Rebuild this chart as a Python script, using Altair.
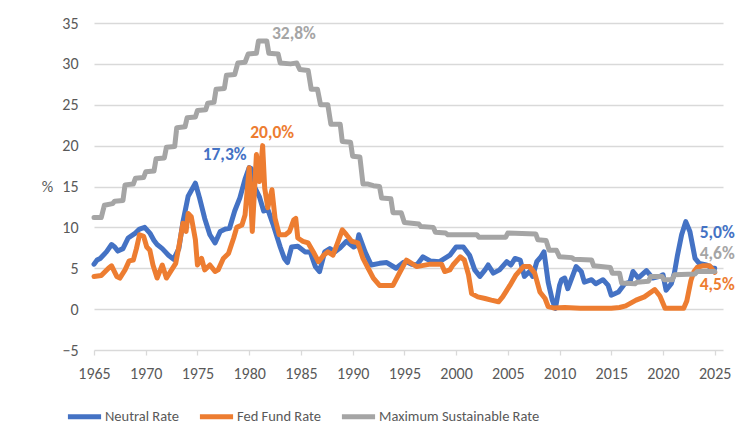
import altair as alt
import pandas as pd

# ---------------- data ----------------
series_names = ["Neutral Rate", "Fed Fund Rate", "Maximum Sustainable Rate"]
series_colors = ["#4472C4", "#ED7D31", "#A5A5A5"]

neutral_year = [1965.0, 1965.3, 1965.6, 1966.2, 1966.7, 1967.0, 1967.3, 1967.8, 1968.3, 1969.0,
                1969.4, 1969.9, 1970.4, 1970.8, 1971.1, 1971.6, 1972.2, 1972.7, 1973.2, 1973.6,
                1974.1, 1974.8, 1975.2, 1975.7, 1976.2, 1976.7, 1977.2, 1977.7, 1978.1, 1978.6,
                1979.1, 1979.6, 1980.0, 1980.2, 1980.5, 1981.0, 1981.4, 1981.8, 1982.3, 1983.0,
                1983.4, 1983.7, 1984.1, 1984.7, 1985.4, 1985.9, 1986.4, 1986.8, 1987.3, 1987.8,
                1988.3, 1988.8, 1989.4, 1990.1, 1990.4, 1990.6, 1991.2, 1991.8, 1992.6, 1993.3,
                1994.2, 1994.9, 1995.2, 1995.7, 1996.2, 1996.8, 1997.5, 1998.4, 1999.4, 2000.0,
                2000.7, 2001.3, 2001.8, 2002.3, 2002.8, 2003.1, 2003.6, 2004.2, 2004.9, 2005.3,
                2005.7, 2006.2, 2006.6, 2007.1, 2007.4, 2007.8, 2008.2, 2008.5, 2008.9, 2009.3,
                2009.6, 2010.0, 2010.2, 2010.5, 2010.8, 2011.6, 2012.1, 2012.4, 2013.1, 2013.5,
                2014.2, 2014.7, 2015.0, 2015.7, 2016.3, 2016.8, 2017.1, 2017.6, 2018.4, 2019.0,
                2019.7, 2020.0, 2020.3, 2020.8, 2021.1, 2021.4, 2021.8, 2022.2, 2022.6, 2023.1,
                2023.5, 2024.2, 2024.8, 2025.0]
neutral_val = [5.5, 6.0, 6.2, 7.0, 7.9, 7.6, 7.1, 7.4, 8.7, 9.3,
               9.8, 10.0, 9.3, 8.4, 7.9, 7.4, 6.6, 6.1, 7.4, 10.7,
               13.8, 15.4, 13.6, 11.1, 9.1, 8.1, 9.5, 9.8, 9.9, 12.0,
               13.6, 15.9, 17.3, 17.2, 15.0, 13.7, 12.0, 12.2, 10.4, 7.6,
               6.2, 5.7, 7.6, 7.7, 7.0, 7.0, 5.2, 4.6, 7.0, 7.4,
               7.0, 7.5, 8.3, 7.6, 7.8, 9.1, 7.0, 5.4, 5.6, 5.7,
               5.0, 5.7, 5.8, 5.5, 5.4, 6.4, 5.9, 5.8, 6.6, 7.6,
               7.6, 6.6, 4.8, 4.0, 4.8, 5.4, 4.4, 4.8, 5.8, 5.4,
               6.2, 6.0, 4.0, 4.6, 4.0, 5.8, 6.4, 7.0, 3.3, 1.1,
               0.1, 2.9, 3.6, 3.8, 2.5, 5.2, 4.6, 3.3, 3.6, 3.1,
               3.6, 2.9, 1.7, 2.1, 3.1, 3.3, 4.6, 3.8, 4.7, 3.8,
               4.0, 4.2, 2.3, 3.1, 4.4, 6.6, 9.1, 10.7, 9.5, 6.2,
               5.6, 5.4, 5.0, 5.0]

fed_year = [1965.0, 1965.7, 1966.4, 1966.7, 1967.2, 1967.5, 1968.0, 1968.4, 1968.8, 1969.1,
            1969.4, 1969.8, 1970.1, 1970.4, 1970.7, 1971.1, 1971.6, 1972.0, 1972.5, 1972.9,
            1973.3, 1973.6, 1973.9, 1974.1, 1974.4, 1974.8, 1975.0, 1975.4, 1975.7, 1976.2,
            1976.7, 1977.0, 1977.5, 1978.0, 1978.5, 1978.8, 1979.3, 1979.6, 1980.0, 1980.3,
            1980.7, 1981.0, 1981.3, 1981.5, 1981.8, 1982.2, 1982.5, 1982.9, 1983.5, 1983.9,
            1984.3, 1984.5, 1984.7, 1985.2, 1985.7, 1986.2, 1986.7, 1987.2, 1987.6, 1988.1,
            1988.6, 1989.0, 1989.4, 1989.9, 1990.5, 1991.0, 1991.5, 1992.0, 1992.6, 1993.4,
            1993.9, 1994.6, 1995.2, 1996.2, 1997.5, 1998.6, 1998.9, 1999.4, 1999.7, 2000.4,
            2000.8, 2001.2, 2001.5, 2002.1, 2002.8, 2003.4, 2004.1, 2004.5, 2005.2, 2005.8,
            2006.5, 2007.1, 2007.6, 2008.1, 2008.6, 2008.9, 2009.4, 2010.5, 2012.0, 2015.0,
            2015.8, 2016.4, 2017.4, 2018.2, 2019.2, 2019.7, 2020.2, 2022.0, 2022.3, 2022.7,
            2023.0, 2023.3, 2023.8, 2024.5, 2024.8, 2025.0]
fed_val = [4.0, 4.1, 5.0, 5.3, 4.0, 3.8, 4.8, 5.9, 6.0, 7.4,
           9.1, 8.9, 7.6, 7.2, 5.4, 3.8, 5.4, 3.8, 4.8, 5.6,
           8.3, 10.5, 9.5, 11.7, 11.3, 8.5, 5.4, 6.2, 4.8, 5.4,
           4.6, 4.8, 6.2, 6.8, 8.7, 10.0, 10.3, 11.5, 17.3, 9.5,
           18.9, 15.6, 20.0, 14.8, 12.4, 14.6, 11.1, 9.1, 9.1, 9.5,
           10.9, 11.1, 8.7, 8.3, 8.1, 7.0, 5.8, 6.6, 7.0, 6.6,
           8.3, 9.7, 9.1, 8.3, 8.1, 6.2, 5.0, 3.8, 2.9, 2.9,
           2.9, 4.6, 6.0, 5.2, 5.5, 5.5, 4.6, 4.8, 5.4, 6.4,
           6.0, 4.2, 1.9, 1.5, 1.3, 1.1, 0.9, 1.5, 2.9, 4.2,
           5.2, 5.2, 4.4, 2.1, 1.3, 0.3, 0.15, 0.2, 0.1, 0.1,
           0.2, 0.4, 1.1, 1.5, 2.4, 1.6, 0.1, 0.1, 1.0, 3.5,
           4.6, 5.1, 5.3, 5.3, 4.8, 4.5]

max_year = [1965.0, 1965.7, 1966.0, 1966.8, 1967.0, 1967.8, 1968.0, 1968.8, 1969.0, 1969.8,
            1970.0, 1970.8, 1971.0, 1971.8, 1972.0, 1972.8, 1973.0, 1973.8, 1974.0, 1974.8,
            1975.0, 1975.8, 1976.0, 1976.6, 1976.8, 1977.6, 1977.8, 1978.6, 1978.9, 1979.6,
            1979.9, 1980.7, 1980.9, 1981.7, 1981.9, 1982.8, 1983.0, 1984.0, 1984.6, 1984.9,
            1985.7, 1986.0, 1986.6, 1986.9, 1987.6, 1987.9, 1988.8, 1989.0, 1989.8, 1990.0,
            1990.7, 1991.0, 1991.5, 1992.0, 1992.6, 1992.8, 1993.7, 1993.9, 1994.7, 1995.0,
            1996.4, 1996.6, 1997.8, 1998.0, 1999.0, 1999.2, 2002.0, 2002.2, 2004.8, 2005.0,
            2007.7, 2007.9, 2008.7, 2009.0, 2009.7, 2010.0, 2011.2, 2011.4, 2013.1, 2013.3,
            2014.9, 2015.1, 2015.8, 2016.0, 2017.3, 2017.5, 2018.6, 2018.8, 2019.9, 2020.1,
            2020.9, 2021.1, 2023.1, 2023.3, 2025.0]
max_val = [11.2, 11.2, 12.7, 12.9, 13.2, 13.3, 15.2, 15.3, 16.0, 16.1,
           16.8, 16.9, 18.4, 18.5, 19.8, 19.9, 22.2, 22.3, 23.4, 23.5,
           24.3, 24.4, 25.2, 25.3, 26.9, 27.0, 28.6, 28.7, 30.1, 30.2,
           31.2, 31.3, 32.8, 32.8, 31.3, 31.2, 30.1, 30.0, 30.1, 29.3,
           29.2, 26.9, 26.9, 25.0, 25.0, 22.6, 22.6, 20.5, 20.4, 18.7,
           18.6, 15.3, 15.3, 15.1, 15.0, 13.6, 13.5, 11.8, 11.8, 10.6,
           10.4, 10.1, 10.0, 9.4, 9.3, 9.1, 9.1, 8.8, 8.8, 9.3,
           9.2, 8.5, 8.4, 7.2, 7.2, 6.4, 6.3, 6.1, 6.0, 5.3,
           5.1, 4.4, 4.4, 3.2, 3.1, 3.3, 3.4, 4.0, 4.0, 3.6,
           3.6, 4.2, 4.3, 4.6, 4.6]

# annotation labels (text, series, anchor year, anchor value)
ann_text = ["17,3%", "20,0%", "32,8%", "5,0%", "4,6%", "4,5%"]
ann_series = ["Neutral Rate", "Fed Fund Rate", "Maximum Sustainable Rate",
              "Neutral Rate", "Maximum Sustainable Rate", "Fed Fund Rate"]
ann_year = [1975.5, 1980.1, 1982.2, 2023.55, 2023.55, 2023.55]
ann_val = [18.8, 21.5, 33.7, 9.3, 6.7, 3.0]

y_ticks = [-5, 0, 5, 10, 15, 20, 25, 30, 35]
x_ticks = [1965, 1970, 1975, 1980, 1985, 1990, 1995, 2000, 2005, 2010, 2015, 2020, 2025]

# ---------------- build table ----------------
frames = []
for name, yrs, vals in [(series_names[0], neutral_year, neutral_val),
                        (series_names[1], fed_year, fed_val),
                        (series_names[2], max_year, max_val)]:
    frames.append(pd.DataFrame({"series": name, "year": yrs, "value": vals,
                                "idx": range(len(yrs))}))
df = pd.concat(frames, ignore_index=True)
ann = pd.DataFrame({"text": ann_text, "series": ann_series, "year": ann_year, "value": ann_val})

FONT = "Calibri, Carlito, Lato, Liberation Sans"
LABEL_COLOR = "#595959"

x_enc = alt.X("year:Q",
              scale=alt.Scale(domain=[1965, 2025.8], nice=False, zero=False),
              axis=alt.Axis(values=x_ticks, format="d", grid=False, domain=False,
                            ticks=True, tickSize=5, tickColor="#d9d9d9", tickWidth=1.3,
                            labelFontSize=16, labelColor=LABEL_COLOR, labelFont=FONT,
                            labelPadding=10, title=None, labelFlush=False))
y_enc = alt.Y("value:Q",
              scale=alt.Scale(domain=[-5, 35], nice=False, zero=False),
              axis=alt.Axis(values=y_ticks, grid=True, gridColor="#d9d9d9", gridWidth=1.3,
                            domain=False, ticks=False, labelFontSize=16,
                            labelColor=LABEL_COLOR, labelFont=FONT, labelPadding=16,
                            title="%", titleFontSize=16, titleColor=LABEL_COLOR,
                            titleFont=FONT, titleFontWeight="normal",
                            titleAngle=0, titleAlign="center", titleBaseline="middle",
                            titleX=-47, titleY=163))
color_enc = alt.Color("series:N",
                      scale=alt.Scale(domain=series_names, range=series_colors),
                      legend=alt.Legend(title=None, orient="none", direction="horizontal",
                                        legendX=-29, legendY=374,
                                        symbolType="stroke", symbolSize=1100,
                                        symbolStrokeWidth=5, labelFontSize=14.5,
                                        labelColor=LABEL_COLOR, labelFont=FONT,
                                        labelOffset=1, columnPadding=10,
                                        labelLimit=300))

layers = []
for name in series_names:
    layers.append(
        alt.Chart(df).transform_filter(alt.datum.series == name)
        .mark_line(strokeWidth=5, strokeJoin="round", strokeCap="round")
        .encode(x=x_enc, y=y_enc, color=color_enc, order="idx:Q")
    )

labels = alt.Chart(ann).mark_text(align="left", baseline="middle", fontWeight="bold",
                                  fontSize=17.5, font=FONT).encode(
    x=alt.X("year:Q"), y=alt.Y("value:Q"), text="text:N",
    color=alt.Color("series:N", scale=alt.Scale(domain=series_names, range=series_colors),
                    legend=None))

chart = alt.layer(*layers, labels).properties(
    width=629, height=327,
    autosize=alt.AutoSizeParams(type="none"),
    padding={"left": 94, "top": 23, "right": 24, "bottom": 95},
    background="white",
).configure_view(stroke=None)

chart.save("out.html", embed_options={"renderer": "svg", "actions": False})
